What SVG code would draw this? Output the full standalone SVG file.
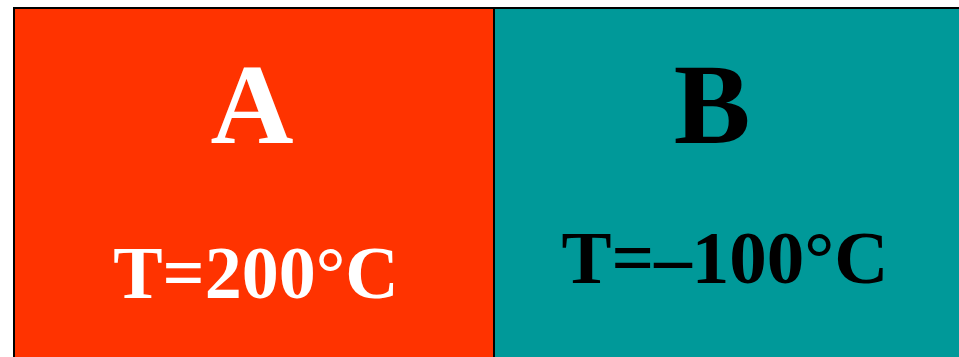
<svg xmlns="http://www.w3.org/2000/svg" width="959" height="357" viewBox="0 0 959 357">
<style>
.t{font-family:"Liberation Serif","Times New Roman",serif;font-weight:bold;text-anchor:middle}
.big{font-size:115px}
.mid{font-size:74px}
</style>
<rect width="959" height="357" fill="#ffffff"/>
<g id="nodeA">
<rect x="14" y="8" width="480" height="360" fill="#FF3300" stroke="#000" stroke-width="2"/>
<text class="t big" x="252" y="143" fill="#ffffff">A</text>
<text class="t mid" x="256" y="298" fill="#ffffff">T=200°C</text>
</g>
<g id="nodeB">
<rect x="494" y="8" width="480" height="360" fill="#009999" stroke="#000" stroke-width="2"/>
<text class="t big" x="712" y="143" fill="#000">B</text>
<text class="t mid" x="725" y="283" fill="#000" style="font-size:75px">T=–100°C</text>
</g>
<g id="connectors"></g>
</svg>
